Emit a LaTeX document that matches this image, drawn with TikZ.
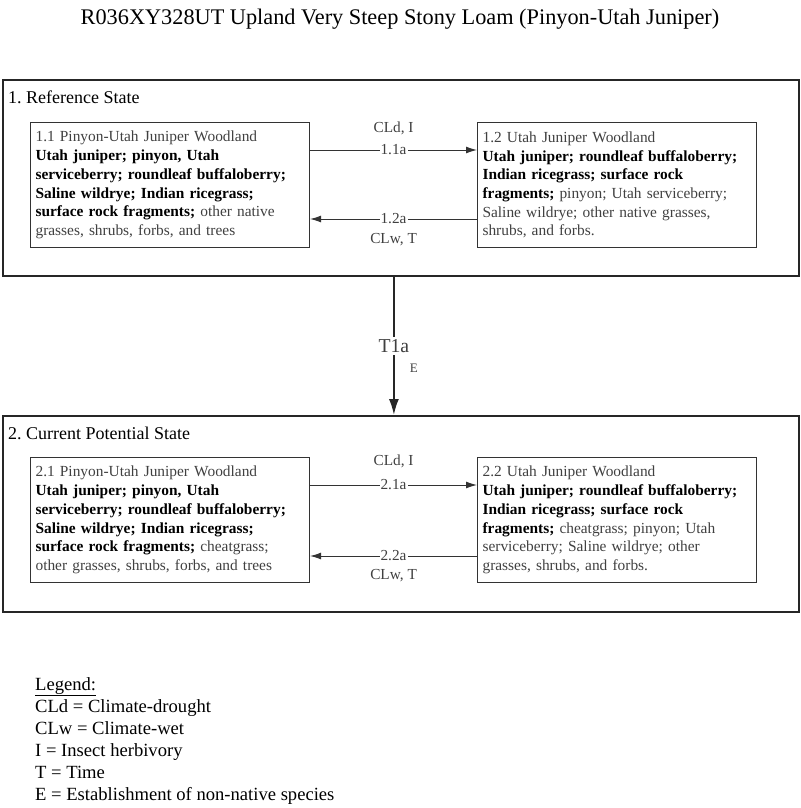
\documentclass[tikz,border=0pt]{standalone}
\usepackage{fontspec}
\setmainfont{Liberation Serif}
\usepackage{xcolor}
\usetikzlibrary{arrows.meta, positioning, calc}
\frenchspacing
\newcommand{\indic}[1]{\textcolor{black}{\textbf{#1}}}
\tikzset{
    statebox/.style={
        draw=black!85,
        line width=1.8pt,
        anchor=north west,
        minimum width=796pt,
        minimum height=196pt,
        inner sep=0pt,
    },
    community/.style={
        draw=black!80,
        line width=1.1pt,
        anchor=north west,
        minimum width=279pt,
        minimum height=125pt,
        text width=269pt,
        inner sep=5pt,
        align=left,
        text=black!75,
        font=\fontsize{15.4}{18.7}\selectfont,
    },
    pathway/.style={
        -{Latex[length=11pt,width=7pt]},
        line width=1pt,
        draw=black!80,
    },
    pathlabel/.style={
        fill=white,
        inner sep=1pt,
        text=black!75,
        font=\fontsize{15.3}{17}\selectfont,
    },
}

\begin{document}
\begin{tikzpicture}[x=1pt, y=-1pt]
    \useasboundingbox (0,0) rectangle (800,808);

    \node[font=\fontsize{22.3}{26}\selectfont] (title) at (400,19)
        {R036XY328UT Upland Very Steep Stony Loam (Pinyon-Utah Juniper)};

    % reference state
    \node[statebox] (s1) at (2,79) {};
    \node[anchor=west, font=\fontsize{18}{21}\selectfont, inner sep=0pt]
        (s1title) at ([shift={(6pt,-18pt)}]s1.north west) {1. Reference State};

    \node[community] (b11) at (30,122) {1.1 Pinyon-Utah Juniper Woodland\\
        \indic{Utah juniper; pinyon, Utah}\\
        \indic{serviceberry; roundleaf buffaloberry;}\\
        \indic{Saline wildrye; Indian ricegrass;}\\
        \indic{surface rock fragments;} other native\\
        grasses, shrubs, forbs, and trees};

    \node[community] (b12) at (477,122) {1.2 Utah Juniper Woodland\\
        \indic{Utah juniper; roundleaf buffaloberry;}\\
        \indic{Indian ricegrass; surface rock}\\
        \indic{fragments;} pinyon; Utah serviceberry;\\
        Saline wildrye; other native grasses,\\
        shrubs, and forbs.};

    \draw[pathway] ([yshift=-28pt]b11.north east) --
        node[pathlabel] (p11a) {1.1a}
        node[pathlabel, yshift=22pt] (p11c) {CLd, I}
        ([yshift=-28pt]b12.north west);
    \draw[pathway] ([yshift=-97pt]b12.north west) --
        node[pathlabel] (p12a) {1.2a}
        node[pathlabel, yshift=-21pt] (p12c) {CLw, T}
        ([yshift=-97pt]b11.north east);

    % current potential state
    \node[statebox] (s2) at (2,415) {};
    \node[anchor=west, font=\fontsize{18}{21}\selectfont, inner sep=0pt]
        (s2title) at ([shift={(6pt,-18pt)}]s2.north west) {2. Current Potential State};

    \node[community] (b21) at (30,457) {2.1 Pinyon-Utah Juniper Woodland\\
        \indic{Utah juniper; pinyon, Utah}\\
        \indic{serviceberry; roundleaf buffaloberry;}\\
        \indic{Saline wildrye; Indian ricegrass;}\\
        \indic{surface rock fragments;} cheatgrass;\\
        other grasses, shrubs, forbs, and trees};

    \node[community] (b22) at (477,457) {2.2 Utah Juniper Woodland\\
        \indic{Utah juniper; roundleaf buffaloberry;}\\
        \indic{Indian ricegrass; surface rock}\\
        \indic{fragments;} cheatgrass; pinyon; Utah\\
        serviceberry; Saline wildrye; other\\
        grasses, shrubs, and forbs.};

    \draw[pathway] ([yshift=-28pt]b21.north east) --
        node[pathlabel] (p21a) {2.1a}
        node[pathlabel, yshift=24pt] (p21c) {CLd, I}
        ([yshift=-28pt]b22.north west);
    \draw[pathway] ([yshift=-99pt]b22.north west) --
        node[pathlabel] (p22a) {2.2a}
        node[pathlabel, yshift=-20pt] (p22c) {CLw, T}
        ([yshift=-99pt]b21.north east);

    % transition
    \draw[-{Latex[length=16pt,width=10pt]}, line width=1.8pt, draw=black!85]
        ([xshift=-7pt]s1.south) --
        node[fill=white, inner sep=2pt, text=black!75, font=\fontsize{19.7}{22}\selectfont] (t1a) {T1a}
        node[pos=0.66, xshift=20pt, text=black!75, font=\fontsize{13}{15}\selectfont] (t1e) {E}
        ([xshift=-7pt]s2.north);

    % legend
    \node[anchor=north west, align=left, inner sep=0pt,
          font=\fontsize{18.6}{22}\selectfont] (legend) at (35,677)
        {\underline{Legend:}\\
        CLd = Climate-drought\\
        CLw = Climate-wet\\
        I = Insect herbivory\\
        T = Time\\
        E = Establishment of non-native species};
\end{tikzpicture}
\end{document}
